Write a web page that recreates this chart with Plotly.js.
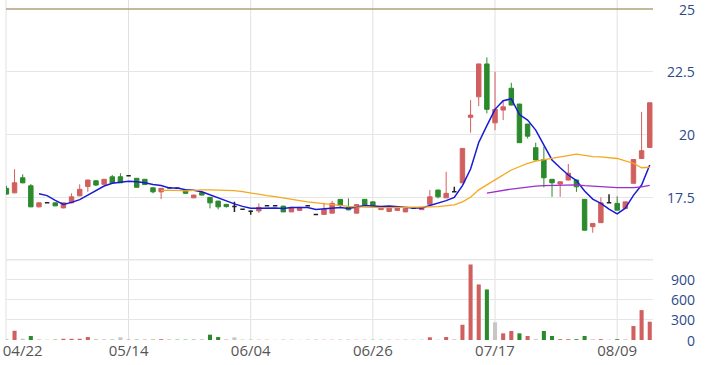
<!DOCTYPE html>
<html><head><meta charset="utf-8">
<script src="https://cdn.plot.ly/plotly-3.0.1.min.js"></script>
<style>html,body{margin:0;padding:0;background:#fff;} #chart{width:713px;height:365px;}</style>
</head><body><div id="chart"></div>
<script>
const dates = ['04/18','04/19','04/22','04/23','04/24','04/25','04/26','04/29','04/30','05/06',
'05/07','05/08','05/09','05/10','05/13','05/14','05/15','05/16','05/17','05/20',
'05/21','05/22','05/23','05/24','05/27','05/28','05/29','05/30','05/31','06/03',
'06/04','06/05','06/06','06/10','06/11','06/12','06/13','06/14','06/17','06/18',
'06/19','06/20','06/21','06/24','06/25','06/26','06/27','06/28','07/01','07/02',
'07/03','07/04','07/05','07/08','07/09','07/10','07/11','07/12','07/15','07/16',
'07/17','07/18','07/19','07/22','07/23','07/26','07/29','07/30','07/31','08/01',
'08/02','08/05','08/06','08/07','08/08','08/09','08/12','08/13','08/14','08/15'];

const opens = [17.85,17.67,18.27,17.95,17.11,17.27,17.27,17.07,17.27,17.55,
17.92,18.15,18.01,18.31,18.31,18.35,18.25,18.21,17.87,17.71,
17.87,17.85,17.78,17.47,17.68,17.49,17.34,17.21,17.12,17.02,
16.94,16.95,17.15,17.15,17.14,16.91,16.97,17.15,16.81,16.81,
16.86,17.41,17.09,16.86,17.41,17.31,17.00,16.93,16.97,16.91,
17.06,17.00,17.21,17.78,17.47,17.71,18.07,20.68,21.50,22.81,
20.46,20.97,21.84,21.21,20.41,19.47,19.00,18.21,18.02,18.18,
18.18,17.41,16.32,16.48,17.27,17.25,17.05,18.05,19.04,19.48];

const highs = [17.95,18.61,18.41,18.02,17.29,17.28,17.28,17.28,17.65,18.01,
18.19,18.17,18.22,18.38,18.45,18.36,18.26,18.22,17.88,17.86,
17.88,17.86,17.79,17.59,17.69,17.50,17.35,17.22,17.31,17.03,
16.98,17.25,17.16,17.16,17.15,17.10,17.10,17.16,16.82,17.27,
17.35,17.42,17.45,17.21,17.42,17.32,17.07,17.09,17.10,17.06,
17.07,17.10,17.78,17.79,18.51,17.91,19.45,21.37,22.82,23.07,
22.50,21.37,22.06,21.22,20.42,19.67,19.51,18.22,18.12,18.82,
18.19,17.42,16.46,17.49,17.61,17.53,17.32,19.01,20.90,21.27];

const lows = [17.60,17.65,18.05,17.10,17.09,17.26,17.14,17.05,17.26,17.54,
17.71,17.94,18.00,18.06,18.06,18.34,17.88,17.99,17.65,17.42,
17.86,17.84,17.64,17.46,17.57,17.05,17.01,17.08,16.91,17.01,
16.80,16.87,17.14,17.14,16.90,16.90,16.96,17.14,16.80,16.80,
16.85,17.10,16.98,16.85,17.18,17.14,16.99,16.92,16.96,16.90,
17.05,16.99,17.20,17.45,17.46,17.70,18.06,20.07,21.13,20.84,
20.17,20.57,21.16,19.66,19.84,18.97,17.89,17.51,17.51,18.17,
17.71,16.17,16.08,16.47,17.26,16.97,17.04,18.04,19.03,19.47];

const closes = [17.62,18.07,18.07,17.11,17.27,17.27,17.15,17.27,17.51,17.81,
18.18,17.98,18.21,18.07,18.07,18.35,17.89,18.00,17.71,17.85,
17.87,17.85,17.65,17.58,17.58,17.27,17.11,17.12,17.12,17.02,
16.94,17.09,17.15,17.15,16.91,17.09,17.09,17.15,16.81,17.01,
17.25,17.17,16.99,17.20,17.19,17.15,17.06,17.08,17.09,17.05,
17.06,17.09,17.51,17.51,17.65,17.71,19.44,20.77,22.81,21.00,
21.00,21.10,21.17,19.67,19.93,18.98,18.27,18.07,18.11,18.45,
17.91,16.18,16.45,17.27,17.27,16.98,17.31,19.00,19.35,21.26];

const volumes = [5,137,19,59,5,5,5,18,18,18,
44,5,5,5,40,5,5,5,5,12,
5,5,5,5,12,79,44,5,40,3,
3,3,3,3,3,3,3,3,3,3,
3,3,3,3,3,3,3,3,3,3,
3,3,40,5,44,5,226,1119,823,749,
262,99,133,99,59,5,133,59,12,12,
12,59,5,12,5,12,5,207,443,271];

// moving averages (MA5 from 04/24, MA20 from 05/20, MA60 from 07/16)
const ma5 = [17.63,17.56,17.37,17.21,17.29,17.40,17.58,17.75,17.94,18.05,
18.10,18.13,18.11,18.07,18.00,17.96,17.86,17.86,17.79,17.77,
17.71,17.59,17.44,17.33,17.23,17.13,17.06,17.06,17.07,17.07,
17.05,17.08,17.08,17.08,17.01,17.03,17.06,17.08,17.05,17.12,
17.16,17.14,17.12,17.14,17.11,17.09,17.07,17.07,17.16,17.24,
17.36,17.49,17.96,18.62,19.68,20.35,21.00,21.34,21.42,20.79,
20.57,20.17,19.60,18.98,18.67,18.38,18.16,17.74,17.42,17.25,
17.02,16.83,17.06,17.57,17.98,18.78];
const ma20 = [17.77,17.78,17.77,17.75,17.78,17.79,17.79,17.79,17.78,17.76,
17.72,17.66,17.62,17.56,17.52,17.46,17.40,17.36,17.31,17.27,
17.23,17.20,17.16,17.13,17.11,17.09,17.09,17.08,17.08,17.08,
17.08,17.09,17.09,17.11,17.12,17.16,17.19,17.31,17.49,17.79,
17.99,18.18,18.37,18.58,18.71,18.84,18.93,18.99,19.04,19.10,
19.17,19.21,19.16,19.11,19.10,19.08,19.04,18.94,18.85,18.67,18.69];
const ma60 = [17.66,17.72,17.77,17.82,17.86,17.91,17.94,17.96,17.97,17.98,
17.99,17.99,17.96,17.93,17.91,17.90,17.88,17.87,17.88,17.91,17.97];

const tickLabels = ['04/22','05/14','06/04','06/26','07/17','08/09'];
const gridLabels = ['05/14','06/04','06/26','07/17','08/09'];
const priceTicks = [17.5, 20, 22.5, 25];
const volumeTicks = [0, 300, 600, 900];

const RED = '#d0605f', GREEN = '#2b8a2b', FLAT = '#222222', GREY = '#c6c6c6';

function candleTrace(pred, color, w) {
  const idx = dates.map((d, i) => i).filter(pred);
  const style = {line: {color: color, width: w}, fillcolor: color};
  return {
    type: 'candlestick', xaxis: 'x', yaxis: 'y',
    x: idx.map(i => dates[i]), open: idx.map(i => opens[i]), high: idx.map(i => highs[i]),
    low: idx.map(i => lows[i]), close: idx.map(i => closes[i]),
    increasing: style, decreasing: style, whiskerwidth: 0, hoverinfo: 'skip'
  };
}

const volColors = volumes.map((v, i) => {
  const prev = i === 0 ? opens[0] : closes[i - 1];
  return closes[i] > prev ? RED : (closes[i] < prev ? GREEN : GREY);
});

const traces = [
  candleTrace(i => closes[i] > opens[i], RED, 1),
  candleTrace(i => closes[i] < opens[i], GREEN, 1),
  candleTrace(i => closes[i] === opens[i], FLAT, 1.5),
  {type: 'scatter', mode: 'lines', x: dates.slice(dates.length - ma5.length), y: ma5,
   line: {color: '#1a1ad6', width: 1.5}, hoverinfo: 'skip', xaxis: 'x', yaxis: 'y'},
  {type: 'scatter', mode: 'lines', x: dates.slice(dates.length - ma20.length), y: ma20,
   line: {color: '#f5a81e', width: 1.3}, hoverinfo: 'skip', xaxis: 'x', yaxis: 'y'},
  {type: 'scatter', mode: 'lines', x: dates.slice(dates.length - ma60.length), y: ma60,
   line: {color: '#9a2fc9', width: 1.3}, hoverinfo: 'skip', xaxis: 'x', yaxis: 'y'},
  {type: 'bar', x: dates, y: volumes, marker: {color: volColors, line: {width: 0}},
   width: 0.5, hoverinfo: 'skip', xaxis: 'x', yaxis: 'y2'}
];

const shapes = [];
gridLabels.forEach(d => {
  const k = dates.indexOf(d);
  shapes.push({type: 'line', xref: 'x', yref: 'paper', x0: k, x1: k, y0: 0, y1: 1,
    line: {color: '#e0e0e0', width: 1}, layer: 'below'});
});
shapes.push({type: 'line', xref: 'paper', yref: 'paper', x0: 0, x1: 0, y0: 0, y1: 1,
  line: {color: '#e0e0e0', width: 1}, layer: 'below'});
shapes.push({type: 'line', xref: 'paper', yref: 'y2', x0: 0, x1: 1, y0: 1200, y1: 1200,
  line: {color: '#e6e6e6', width: 3}, layer: 'below'});
shapes.push({type: 'line', xref: 'paper', yref: 'y', x0: 0, x1: 1, y0: 25, y1: 25,
  line: {color: '#b39e7a', width: 1.5}, layer: 'below'});

const tickFont = {family: 'Open Sans', size: 14, color: '#2b4a8b'};
const annotations = [];
priceTicks.forEach(v => annotations.push({xref: 'paper', yref: 'y', x: 1.068, y: v,
  xanchor: 'right', yanchor: 'middle', text: String(v), showarrow: false, font: tickFont}));
volumeTicks.forEach(v => annotations.push({xref: 'paper', yref: 'y2', x: 1.068, y: v,
  xanchor: 'right', yanchor: 'middle', text: String(v), showarrow: false, font: tickFont}));

const layout = {
  width: 713, height: 365,
  margin: {l: 6, r: 60, t: 0, b: 25},
  paper_bgcolor: '#ffffff', plot_bgcolor: '#ffffff',
  font: {family: 'Open Sans', size: 14, color: '#555555'},
  showlegend: false, hovermode: false, dragmode: false,
  boxgap: 0.22, bargap: 0.5,
  xaxis: {type: 'category', categoryorder: 'array', categoryarray: dates,
    range: [-0.05, 79.4], anchor: 'y2', tickmode: 'array', tickvals: tickLabels, ticktext: tickLabels,
    showgrid: false, zeroline: false, showline: false, ticks: '',
    tickfont: {family: 'Open Sans', size: 15, color: '#555555'},
    rangeslider: {visible: false}},
  yaxis: {domain: [0.2647, 1], range: [15.39, 25.36], tickmode: 'array', tickvals: [17.5, 20, 22.5],
    showticklabels: false, gridcolor: '#e6e6e6', gridwidth: 1, zeroline: false, showline: false, ticks: ''},
  yaxis2: {domain: [0, 0.2382], range: [0, 1200], tickmode: 'array', tickvals: volumeTicks,
    showticklabels: false, gridcolor: '#e6e6e6', gridwidth: 1, zeroline: false, showline: false, ticks: ''},
  shapes: shapes,
  annotations: annotations
};

Plotly.newPlot('chart', traces, layout, {staticPlot: true, displayModeBar: false});
</script>
</body></html>
